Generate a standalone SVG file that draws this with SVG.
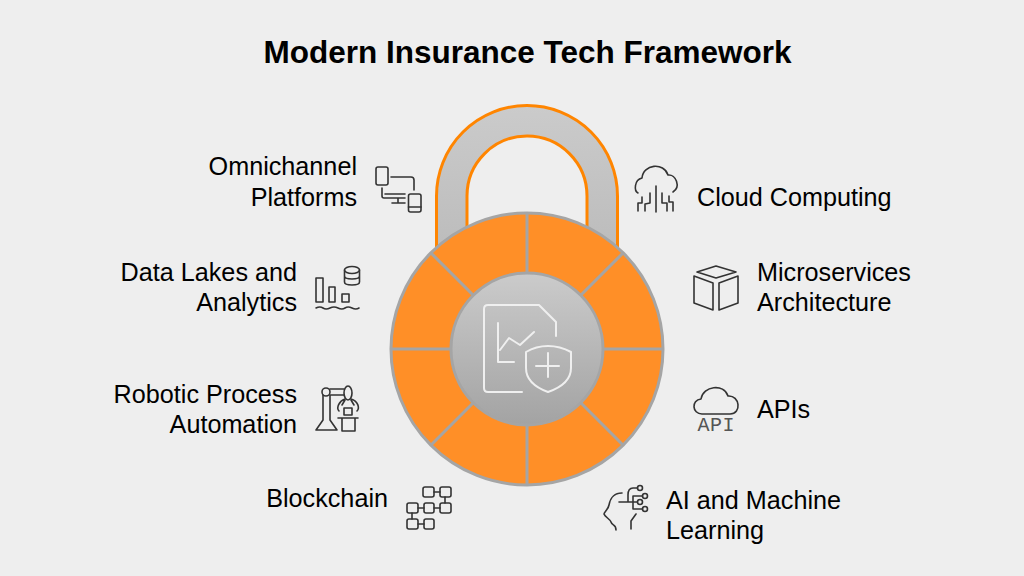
<svg xmlns="http://www.w3.org/2000/svg" width="1024" height="576" viewBox="0 0 1024 576">
<style>
text{font-family:"Liberation Sans",Arial,sans-serif;font-size:25.200px;fill:#000}
.r{text-anchor:end}
.title{font-size:31.500px;font-weight:bold;text-anchor:middle}
.ic{fill:none;stroke:#333333;stroke-width:1.600;stroke-linecap:round;stroke-linejoin:round}
.ci{fill:none;stroke:#efefef;stroke-width:2;stroke-linecap:round;stroke-linejoin:round}
.seg{stroke:#a5a5a5;stroke-width:3}
</style>
<defs>
<linearGradient id="g1" x1="0" y1="0" x2="0" y2="1"><stop offset="0" stop-color="#cbcbcb"/><stop offset="1" stop-color="#a3a3a3"/></linearGradient>
<linearGradient id="g2" x1="0" y1="0" x2="0" y2="1"><stop offset="0" stop-color="#cbcbcb"/><stop offset="1" stop-color="#bbbbbb"/></linearGradient>
</defs>
<rect width="1024" height="576" fill="#eeeeee"/>
<text class="title" x="527.500" y="63">Modern Insurance Tech Framework</text>
<g id="lock">
<path d="M436.500 260V196A90.500 90.500 0 0 1 617.500 196V260H587V196A60 60 0 0 0 467 196V260Z" fill="url(#g2)" stroke="#ff8500" stroke-width="3"/>
<circle cx="527" cy="349" r="136" fill="#ff8f27" stroke="#a5a5a5" stroke-width="3"/>
<g class="seg">
<path d="M527 213V273M527 425V485M391 349H451M603 349H663M430.800 252.800L473.300 295.300M580.700 402.700L623.200 445.200M623.200 252.800L580.700 295.300M473.300 402.700L430.800 445.200"/>
</g>
<circle cx="527" cy="349" r="76" fill="url(#g1)" stroke="#a5a5a5" stroke-width="3"/>
<g class="ci">
<path d="M522 392H488Q484 392 484 388V309Q484 305 488 305H539L556 322V336"/>
<path d="M498 323V362H514M500 350L509 338L520 345L534 332"/>
<path d="M548 346Q536 346 526 352V368Q526 384 548 392Q571 384 571 368V352Q560 346 548 346Z"/>
<path d="M536 366H559M548 353V377"/>
</g>
</g>
<g id="omnichannel">
<text class="r" x="357" y="174.500">Omnichannel</text><text class="r" x="357" y="205.500">Platforms</text>
<g class="ic"><rect x="376" y="167" width="12" height="18" rx="2"/><path d="M391 177H411Q414 177 414 180V190M382 188V196Q382 198 384 198H405M385 194H405M398 198V203M392 203H405"/><rect x="408.500" y="194" width="12.500" height="18" rx="2"/><path d="M408.500 207H421"/></g>
</g>
<g id="data-lakes">
<text class="r" x="297" y="280.500">Data Lakes and</text><text class="r" x="297" y="311">Analytics</text>
<g class="ic"><rect x="316" y="278" width="7" height="24"/><rect x="329" y="287" width="6" height="15"/><rect x="342" y="294" width="7" height="8"/><path d="M316 308Q320 306 323 308T330 308T338 308T345 308T352 308T359 308"/><ellipse cx="352" cy="270" rx="7.500" ry="3.500"/><path d="M344.500 270V282C344.500 286 359.500 286 359.500 282V270M344.500 276C344.500 280 359.500 280 359.500 276"/></g>
</g>
<g id="rpa">
<text class="r" x="297" y="402.500">Robotic Process</text><text class="r" x="297" y="432.500">Automation</text>
<g class="ic"><circle cx="326" cy="392" r="4"/><path d="M323 395V420L316 430H337L330 420V395M330 389H344M330 395H344"/><ellipse cx="348" cy="393" rx="4" ry="7"/><path d="M345 399C339 401 336 408 339 411M351 399C358 401 360 408 357 411M345 400L342 405M351 400L354 405"/><rect x="344" y="408" width="8" height="7"/><path d="M338 418H358M342 418V431H355V418"/></g>
</g>
<g id="blockchain">
<text class="r" x="388" y="507">Blockchain</text>
<g class="ic"><rect x="423" y="487" width="11" height="10" rx="2"/><rect x="440" y="487" width="11" height="10" rx="2"/><rect x="407" y="503" width="11" height="10" rx="2"/><rect x="424" y="503" width="10" height="10" rx="2"/><rect x="440" y="503" width="11" height="10" rx="2"/><rect x="407" y="519" width="11" height="10" rx="2"/><rect x="424" y="519" width="10" height="10" rx="2"/><path d="M434 492H440M445 497V503M418 508H424M434 508H440M412 513V519M418 524H424"/></g>
</g>
<g id="cloud">
<text x="697" y="205.500">Cloud Computing</text>
<g class="ic"><path d="M638 193C634 191 634 180 642 178C643 164 664 162 668 175C676 174 681 187 673 192"/><path d="M656 186V212M650 193V203L645 204V211M642 197V203H638V211M662 193V203H667V211M669 196V202H673V211"/></g>
</g>
<g id="microservices">
<text x="757" y="280.500">Microservices</text><text x="757" y="311">Architecture</text>
<g class="ic"><path d="M697 272L716 266L736 272L716 278ZM694 276L713 283V310L694 303ZM719 283L738 276V303L719 310Z"/></g>
</g>
<g id="apis">
<text x="757" y="417.500">APIs</text>
<g class="ic"><path d="M702 414C692 414 691 400 701 399C703 386 724 383 728 396C740 395 742 414 730 414Z"/></g>
<text x="697.500" y="431" style="font-family:'Liberation Mono',monospace;font-size:20px;letter-spacing:0.500px;fill:#555555">API</text>
</g>
<g id="ai">
<text x="666" y="508.500">AI and Machine</text><text x="666" y="538.500">Learning</text>
<g class="ic"><path d="M622 493C612 493 610 500 609 505C608 510 604 512 604 514C605 517 610 519 611 522C612 526 616 524 616 530M636 514L631 521V529M619 502H637M628 502V495Q628 488 633 488H637.500M633 502V496H642.500M633 502V509H642.500"/><circle cx="640" cy="488" r="2.500"/><circle cx="645" cy="496" r="2.500"/><circle cx="640" cy="502" r="2.500"/><circle cx="645" cy="509" r="2.500"/></g>
</g>
</svg>
